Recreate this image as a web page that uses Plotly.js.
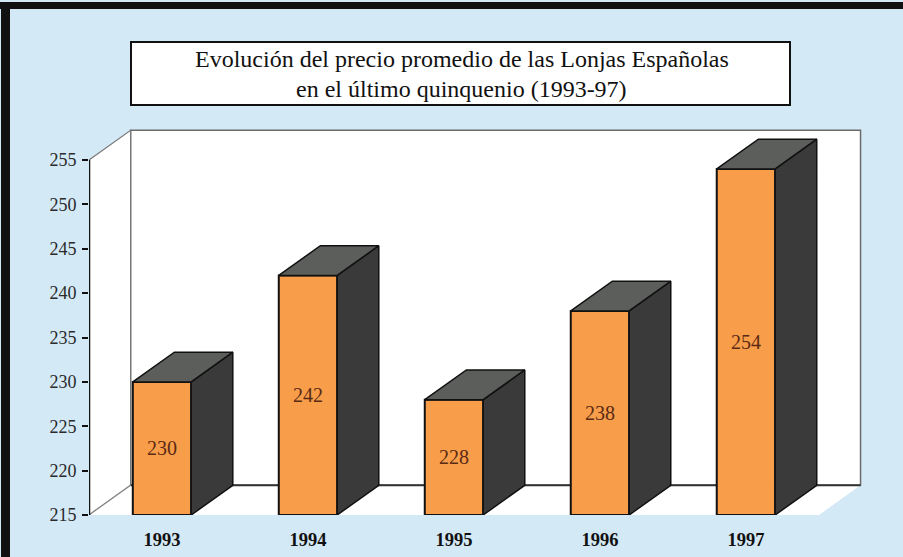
<!DOCTYPE html>
<html><head><meta charset="utf-8">
<script src="https://cdn.plot.ly/plotly-3.0.1.min.js"></script>
<style>html,body{margin:0;padding:0;background:#d4e9f6;} #chart{width:903px;height:557px;}</style>
</head><body><div id="chart"></div>
<script>
// ---- data ----
const categories = ['1993', '1994', '1995', '1996', '1997'];
const prices = [230, 242, 228, 238, 254];
const yTicks = [215, 220, 225, 230, 235, 240, 245, 250, 255];
const titleLines = ['Evolución del precio promedio de las Lonjas Españolas', 'en el último quinquenio (1993-97)'];

// ---- geometry ----
const W = 903, H = 557;
const M = {l: 89, r: 41, t: 125, b: 42};
const Y0 = 215, YMAX = 255;
const DX = 0.285, DY = 3.35, BW = 0.4;
const xr = [-0.5, 4.5 + DX + 0.01];
const yr = [Y0, YMAX + DY + 0.6];
const pw = W - M.l - M.r, ph = H - M.t - M.b;
const px = v => (v - M.l) / pw;
const py = v => (H - M.b - v) / ph;
const idx = categories.map((c, i) => i);

const FONT = 'Liberation Serif';
const traces = [];

// front faces
traces.push({
  type: 'bar', x: idx, y: prices.map(v => v - Y0), base: Y0, width: BW,
  marker: {color: '#f89d4a', line: {color: '#111', width: 2}},
  text: prices.map(String), textposition: 'inside', insidetextanchor: 'middle',
  textangle: 0, textfont: {family: FONT, size: 20, color: '#5a2a14'},
  hoverinfo: 'skip', showlegend: false
});
// side and top faces
prices.forEach((v, i) => {
  const xl = i - BW / 2, xrr = i + BW / 2;
  traces.push({
    type: 'scatter', mode: 'lines', fill: 'toself', fillcolor: '#3a3a3a',
    x: [xrr, xrr + DX, xrr + DX, xrr, xrr],
    y: [Y0, Y0 + DY, v + DY, v, Y0],
    line: {color: '#111', width: 1.5}, hoverinfo: 'skip', showlegend: false
  });
  traces.push({
    type: 'scatter', mode: 'lines', fill: 'toself', fillcolor: '#5c5e5c',
    x: [xl, xl + DX, xrr + DX, xrr, xl],
    y: [v, v + DY, v + DY, v, v],
    line: {color: '#111', width: 1.5}, hoverinfo: 'skip', showlegend: false
  });
});

const shapes = [
  // back wall
  {type: 'rect', xref: 'x', yref: 'y', layer: 'below', x0: -0.5 + DX, x1: 4.5 + DX, y0: Y0 + DY, y1: YMAX + DY,
   fillcolor: '#ffffff', line: {color: '#6a6a6a', width: 1.5}},
  // left side wall
  {type: 'path', xref: 'x', yref: 'y', layer: 'below',
   path: `M -0.5,${Y0} L ${-0.5 + DX},${Y0 + DY} L ${-0.5 + DX},${YMAX + DY} L -0.5,${YMAX} Z`,
   fillcolor: '#ffffff', line: {color: '#777', width: 1.2}},
  // floor
  {type: 'path', xref: 'x', yref: 'y', layer: 'below',
   path: `M -0.5,${Y0} L 4.5,${Y0} L ${4.5 + DX},${Y0 + DY} L ${-0.5 + DX},${Y0 + DY} Z`,
   fillcolor: '#ffffff', line: {width: 0}},
  // floor back line
  {type: 'line', xref: 'x', yref: 'y', layer: 'below', x0: -0.5 + DX, x1: 4.5 + DX, y0: Y0 + DY, y1: Y0 + DY,
   line: {color: '#333', width: 2}},
  // floor left diagonal
  {type: 'line', xref: 'x', yref: 'y', layer: 'below', x0: -0.5, x1: -0.5 + DX, y0: Y0, y1: Y0 + DY,
   line: {color: '#888', width: 1.2}},
  // y axis line
  {type: 'line', xref: 'x', yref: 'y', x0: -0.5, x1: -0.5, y0: Y0, y1: YMAX,
   line: {color: '#111', width: 2.5}},
  // page borders
  {type: 'rect', xref: 'paper', yref: 'paper', x0: px(0), x1: px(903), y0: py(9), y1: py(2),
   fillcolor: '#111', line: {width: 0}},
  {type: 'rect', xref: 'paper', yref: 'paper', x0: px(1), x1: px(10), y0: py(557), y1: py(2),
   fillcolor: '#111', line: {width: 0}},
  // title box
  {type: 'rect', xref: 'paper', yref: 'paper', x0: px(131), x1: px(790), y0: py(105), y1: py(42),
   fillcolor: '#ffffff', line: {color: '#111', width: 2}}
];

const titleY = [59, 89];
const layout = {
  width: W, height: H, margin: M,
  paper_bgcolor: '#d4e9f6', plot_bgcolor: 'rgba(0,0,0,0)',
  showlegend: false,
  xaxis: {range: xr, tickvals: idx, ticktext: categories, showgrid: false, zeroline: false, showline: false,
          ticks: '', ticklabelstandoff: 11,
          tickfont: {family: FONT, size: 18.5, color: '#111', weight: 'bold'}, fixedrange: true},
  yaxis: {range: yr, tickvals: yTicks, ticktext: yTicks.map(String), showgrid: false, zeroline: false, showline: false,
          ticks: 'outside', ticklen: 6, tickwidth: 2, tickcolor: '#111', ticklabelstandoff: 2,
          tickfont: {family: FONT, size: 18, color: '#2a2a2a'}, fixedrange: true},
  shapes: shapes,
  annotations: titleLines.map((t, i) => ({
    xref: 'paper', yref: 'paper', x: px(461.5), y: py(titleY[i]), xanchor: 'center', yanchor: 'middle',
    text: t, showarrow: false,
    font: {family: FONT, size: 24, color: '#111'}
  }))
};

Plotly.newPlot('chart', traces, layout, {displayModeBar: false, staticPlot: true});
</script>
</body></html>
